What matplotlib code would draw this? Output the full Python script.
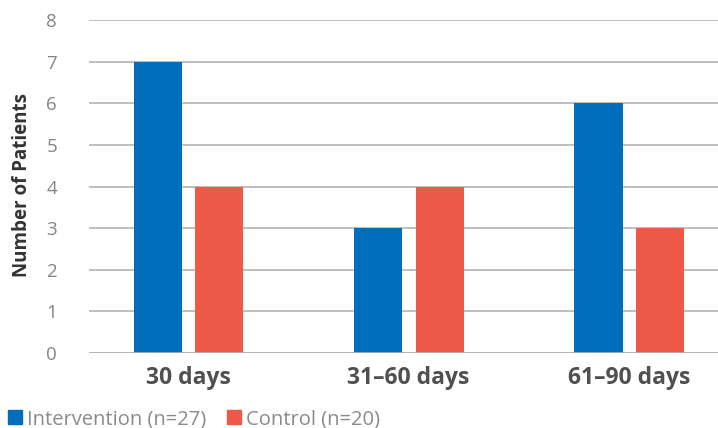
import matplotlib
matplotlib.use("Agg")
import matplotlib.pyplot as plt
from matplotlib.patches import Patch
import numpy as np

categories = ["30 days", "31\u201360 days", "61\u201390 days"]
intervention = [7, 3, 6]
control = [4, 4, 3]
series_labels = ["Intervention (n=27)", "Control (n=20)"]
yticks = [0, 1, 2, 3, 4, 5, 6, 7, 8]

blue = "#006EBB"
red = "#EE5A47"

plt.rcParams["font.family"] = ["Open Sans", "DejaVu Sans"]

fig = plt.figure(figsize=(7.18, 4.28), dpi=100)
ax = fig.add_axes([0.124, 0.175, 0.876, 0.778])

x = np.arange(len(categories))
w = 0.218
ax.bar(x - 0.138, intervention, w, color=blue, zorder=3)
ax.bar(x + 0.142, control, w, color=red, zorder=3)

ax.set_ylim(0, 8)
ax.set_xlim(-0.449, 2.404)
ax.set_yticks(yticks)
ax.yaxis.grid(True, color="#b3b3b3", linewidth=1.2, zorder=0)
for s in ax.spines.values():
    s.set_visible(False)
ax.axhline(0, color="#b3b3b3", linewidth=1.2, zorder=4)
ax.tick_params(axis="y", length=0, pad=23, labelsize=13.5, labelcolor="#858585")
ax.tick_params(axis="x", length=0, pad=9)
ax.set_xticks(x)
ax.set_xticklabels(categories, fontsize=16.5, fontweight="bold", color="#505050")
ax.set_ylabel("Number of Patients", fontsize=13.5, fontweight="bold", color="#333333")
ax.yaxis.set_label_coords(-0.09, 0.505)

handles = [Patch(color=blue), Patch(color=red)]
fig.legend(handles, series_labels, loc="center left",
           bbox_to_anchor=(8 / 718, 1 - 419 / 428),
           borderaxespad=0, borderpad=0,
           ncol=2, frameon=False, fontsize=14.5, labelcolor="#8a8a8a",
           handlelength=0.7, handleheight=0.7, handletextpad=0.25, columnspacing=1.0)

fig.savefig("out.png", dpi=100)
